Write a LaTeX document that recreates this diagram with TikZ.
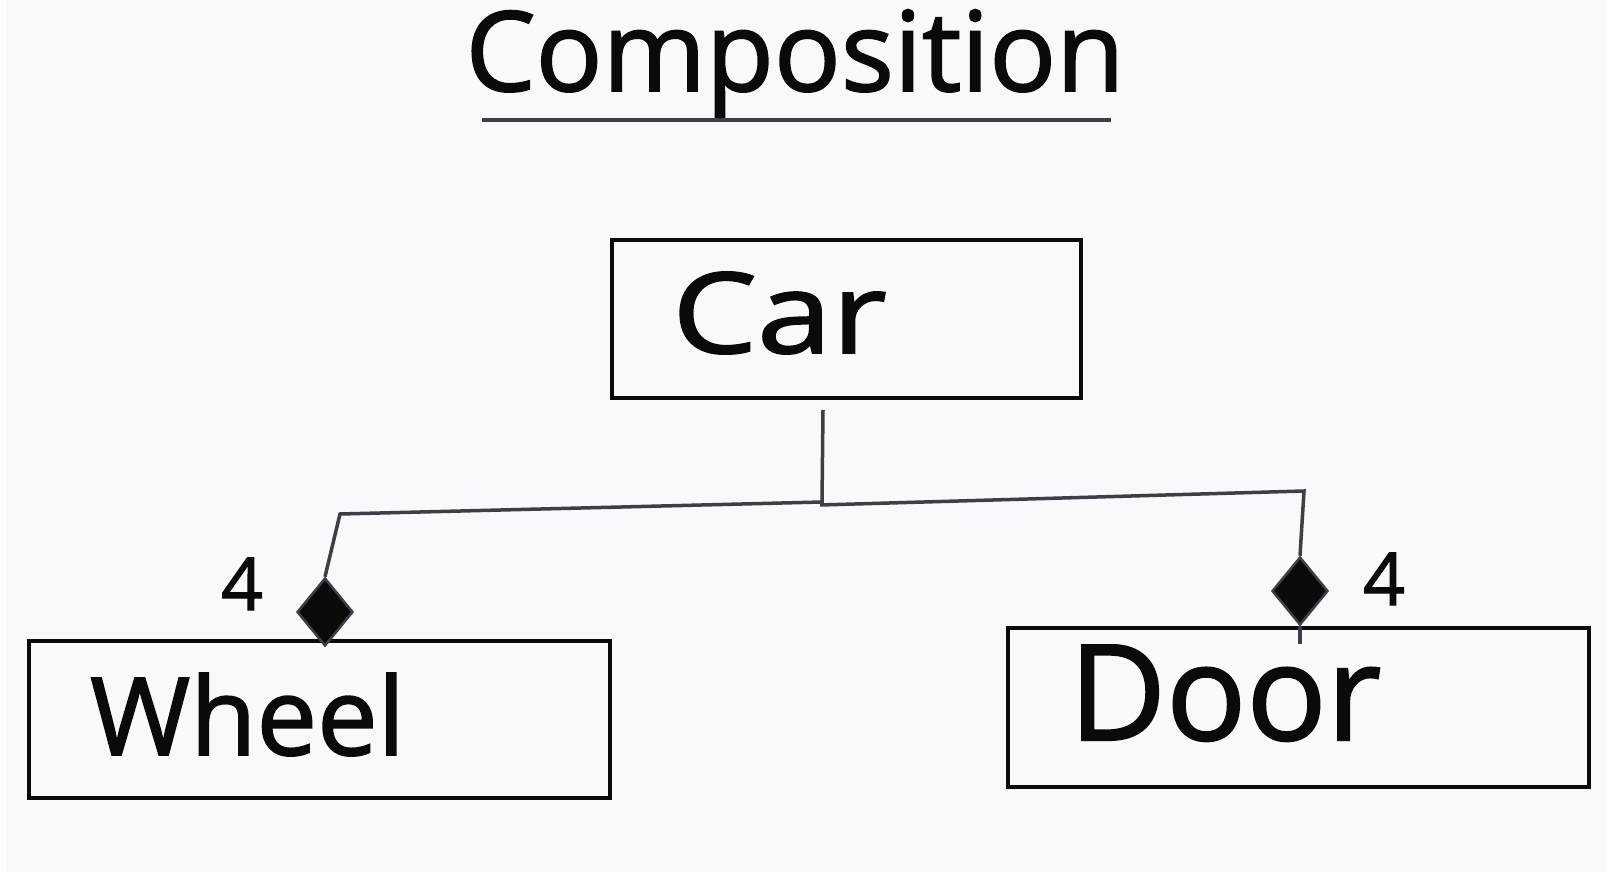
\documentclass[tikz,border=0pt]{standalone}
\usepackage{fontspec}
\setmainfont{Open Sans}
\newfontfamily\hand{Open Sans}[FakeBold=1.6]
\usetikzlibrary{shapes.geometric}
\definecolor{bg}{HTML}{F8F9FB}
\definecolor{ink}{HTML}{0A0A0A}
\definecolor{wire}{HTML}{3C3F45}
\tikzset{
  classbox/.style={draw=ink, line width=3.5pt, rectangle, inner sep=0pt, anchor=center},
  handtext/.style={inner sep=0pt, anchor=base west, text=ink, font=\hand},
  wireline/.style={draw=wire, line width=3.5pt, line join=miter},
  compdiamond/.style={diamond, fill=ink, draw=wire, line width=2.5pt, inner sep=0pt,
    minimum width=56pt, minimum height=68pt},
}
\begin{document}
\begin{tikzpicture}[x=1pt,y=-1pt]
\useasboundingbox (0,0) rectangle (1607,872);
\fill[bg] (0,0) rectangle (1607,872);
\fill[white] (0,0) rectangle (6,872);
% title
\node[inner sep=0pt, anchor=base, text=ink, font=\hand] (title) at (795,91) {\fontsize{111}{120}\selectfont Composition};
\draw[draw=wire, line width=4pt] (482,120) coordinate (ul1) -- (1111,120) coordinate (ul2);
% boxes
\node[classbox, minimum width=469pt, minimum height=158pt] (car) at (846.5,319) {};
\node[classbox, minimum width=581pt, minimum height=157pt] (wheel) at (319.5,719.5) {};
\node[classbox, minimum width=581pt, minimum height=159pt] (door) at (1298.5,707.5) {};
\node[handtext, xscale=1.2] (cartext) at (672,353) {\fontsize{112}{120}\selectfont Car};
\node[handtext] (wheeltext) at (90,755) {\fontsize{108}{120}\selectfont Wheel};
\node[handtext] (doortext) at (1069,740) {\fontsize{133}{140}\selectfont Door};
% diamonds
\node[compdiamond] (ld) at (325,612) {};
\node[compdiamond] (rd) at (1300,591) {};
% connectors
\coordinate (stem) at (823,410);
\coordinate (jl) at (822,502);
\coordinate (jr) at (820,505);
\coordinate (lc) at (340,514);
\coordinate (rc) at (1304,491);
\coordinate (rstub) at (1300,644);
\draw[wireline] (stem) -- (jl) -- (lc) -- (ld.north);
\draw[wireline] (jr) -- (rc) -- (rd.north);
\draw[wireline] (rd.south) -- (rstub);
% multiplicities
\node[handtext] (lmult) at (221,610) {\fontsize{73}{80}\selectfont 4};
\node[handtext] (rmult) at (1363,605) {\fontsize{73}{80}\selectfont 4};
\end{tikzpicture}
\end{document}
